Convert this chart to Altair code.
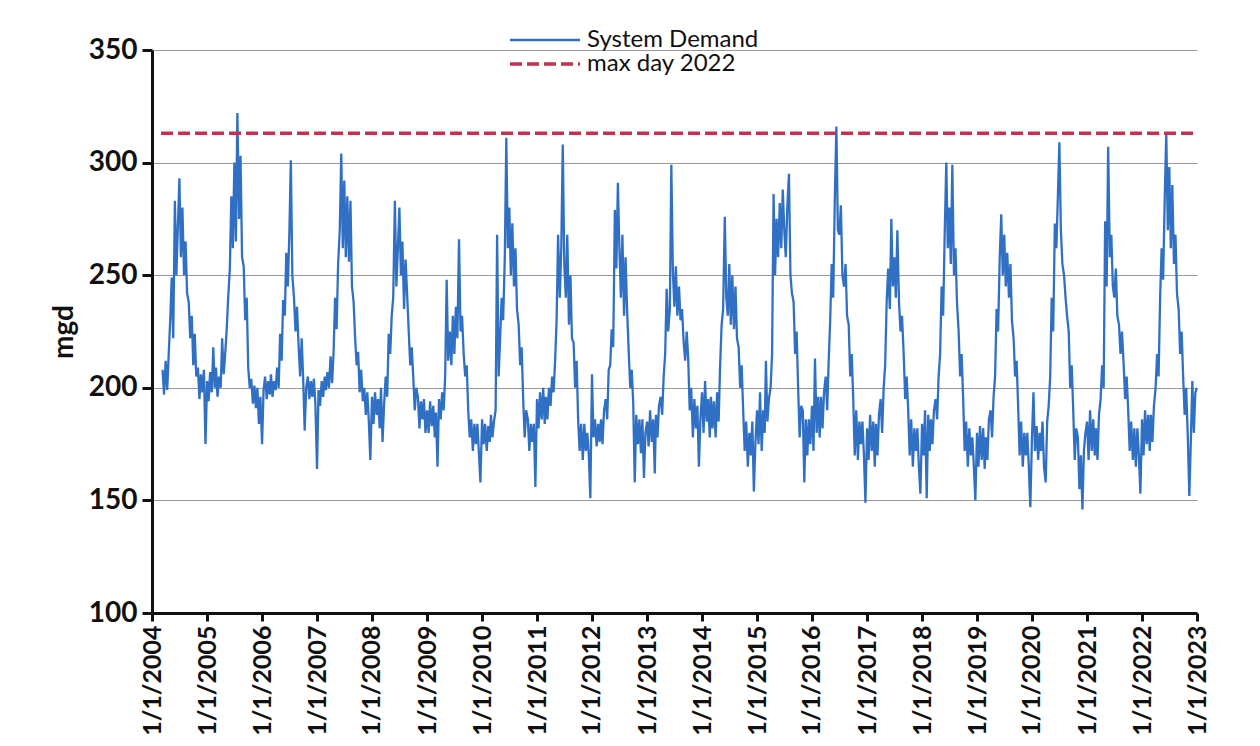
import altair as alt
import pandas as pd

# Daily system demand (mgd) at ~10-day resolution (1st, 11th, 21st of each month)
y2004 = [208, 197,  212, 199, 215,  230, 249, 222,  283, 250, 272,  293, 258, 280,  250, 265, 242,
         238, 222, 232,  210, 224, 205,  209, 195, 206,  198, 208, 175]  # from Mar 11
y2005 = [203, 194, 207,  198, 218, 200,  209, 196, 205,  200, 222, 206,  215, 226, 240,  253, 285, 262,
         300, 265, 322,  275, 303, 258,  254, 230, 240,  209, 200, 204,  193, 201, 191,  200, 184, 196]
y2006 = [175, 199, 205,  195, 203, 197,  206, 196, 203,  199, 209, 200,  224, 212, 239,  232, 260, 245,
         268, 301, 250,  240, 225, 236,  218, 205, 222,  204, 181, 200,  205, 195, 203,  196, 204, 193]
y2007 = [164, 199, 192,  203, 196, 205,  199, 207, 200,  214, 202, 216,  240, 226, 255,  270, 304, 262,
         292, 258, 285,  256, 283, 245,  238, 222, 210,  216, 198, 208,  194, 200, 188,  198, 185, 168]
y2008 = [196, 184, 198,  188, 195, 182,  200, 176, 192,  205, 196, 224,  215, 232, 240,  283, 245, 262,
         280, 250, 265,  235, 257, 242,  225, 210, 218,  205, 190, 200,  196, 182, 194,  186, 195, 180]
y2009 = [190, 180, 194,  183, 192, 178,  189, 165, 195,  186, 198, 190,  205, 248, 212,  225, 210, 232,
         215, 236, 222,  266, 225, 232,  215, 205, 210,  190, 178, 186,  172, 184, 175,  184, 171, 158]
y2010 = [186, 175, 184,  172, 183, 176,  188, 178, 185,  190, 268, 205,  222, 240, 230,  258, 311, 262,
         280, 250, 273,  245, 262, 235,  228, 210, 218,  195, 178, 190,  186, 172, 184,  176, 184, 156]
y2011 = [195, 182, 198,  186, 200, 184,  196, 186, 200,  192, 205, 198,  212, 230, 268,  240, 262, 308,
         255, 240, 268,  228, 250, 222,  220, 200, 212,  186, 172, 184,  168, 184, 172,  180, 170, 151]
y2012 = [206, 178, 186,  174, 184, 176,  186, 175, 190,  195, 186, 208,  210, 226, 218,  279, 253, 291,
         262, 240, 268,  232, 258, 235,  216, 200, 208,  193, 158, 188,  175, 186, 171,  186, 160, 180]
y2013 = [185, 174, 190,  176, 186, 162,  188, 178, 192,  196, 188, 205,  215, 244, 225,  235, 299, 252,
         236, 254, 232,  245, 230, 235,  220, 212, 225,  213, 190, 200,  178, 195, 182,  192, 165, 186]
y2014 = [198, 180, 203,  185, 195, 178,  196, 182, 194,  178, 198, 185,  210, 228, 235,  276, 240, 232,
         255, 228, 250,  226, 245, 222,  218, 200, 210,  190, 172, 185,  165, 180, 170,  185, 154, 175]
y2015 = [190, 175, 198,  172, 190, 180,  212, 185, 195,  200, 215, 286,  250, 275, 258,  282, 262, 288,
         270, 258, 280,  295, 250, 242,  238, 215, 225,  200, 178, 192,  190, 158, 186,  170, 186, 175]
y2016 = [192, 172, 213,  180, 196, 178,  196, 182, 198,  205, 190, 212,  230, 255, 240,  285, 316, 270,
         268, 281, 250,  245, 255, 232,  228, 205, 215,  195, 170, 190,  168, 185, 175,  185, 170, 149]
y2017 = [182, 168, 188,  172, 185, 165,  184, 170, 188,  195, 180, 200,  210, 238, 253,  235, 275, 245,
         258, 240, 270,  238, 225, 232,  215, 195, 205,  190, 170, 186,  165, 182, 172,  182, 165, 153]
y2018 = [184, 170, 190,  151, 188, 172,  186, 175, 190,  195, 186, 205,  215, 245, 232,  270, 300, 262,
         280, 255, 299,  250, 262, 238,  225, 205, 215,  195, 172, 185,  165, 182, 170,  178, 165, 150]
y2019 = [180, 165, 183,  168, 182, 164,  178, 168, 186,  190, 178, 196,  205, 235, 225,  258, 277, 250,
         268, 245, 260,  240, 255, 230,  222, 205, 212,  192, 170, 185,  165, 180, 170,  180, 165, 147]
y2020 = [178, 198, 172,  183, 168, 180,  172, 185, 165,  158, 185, 192,  205, 240, 225,  273, 262, 285,
         309, 270, 255,  250, 240, 232,  225, 200, 210,  190, 168, 182,  178, 155, 170,  146, 172, 180]
y2021 = [185, 168, 190,  172, 186, 170,  182, 168, 188,  195, 210, 200,  274, 245, 307,  258, 268, 245,
         240, 253, 232,  228, 215, 225,  210, 195, 205,  190, 172, 185,  168, 182, 165,  182, 170, 153]
y2022 = [186, 170, 190,  175, 188, 172,  188, 176, 192,  200, 215, 205,  240, 262, 248,  285, 313, 270,
         298, 262, 290,  255, 268, 242,  235, 215, 225,  205, 188, 200,  178, 152, 176,  203, 180, 198]
last_day = ("2022-12-31", 200)

max_day_2022 = 313
max_day_span = ["2004-03-01", "2023-01-01"]

series_names = ["System Demand", "max day 2022"]
series_colors = ["#3070C4", "#C4304F"]

years = {
    2004: y2004, 2005: y2005, 2006: y2006, 2007: y2007, 2008: y2008, 2009: y2009,
    2010: y2010, 2011: y2011, 2012: y2012, 2013: y2013, 2014: y2014, 2015: y2015,
    2016: y2016, 2017: y2017, 2018: y2018, 2019: y2019, 2020: y2020, 2021: y2021,
    2022: y2022,
}

rows = []
for yr, vals in years.items():
    dates = [f"{yr}-{m:02d}-{d:02d}" for m in range(1, 13) for d in (1, 11, 21)]
    dates = dates[-len(vals):]
    for dt, v in zip(dates, vals):
        rows.append({"date": dt, "value": v, "series": series_names[0]})
rows.append({"date": last_day[0], "value": last_day[1], "series": series_names[0]})
for dt in max_day_span:
    rows.append({"date": dt, "value": max_day_2022, "series": series_names[1]})

df = pd.DataFrame(rows)

tick_years = [alt.DateTime(year=y, month=1, date=1, utc=True) for y in range(2004, 2024)]

legend = alt.Legend(
    title=None, orient="none", legendX=356, legendY=-21, symbolType="stroke",
    symbolSize=4900, symbolStrokeWidth=3, clipHeight=22, labelFont="Lato",
    labelFontSize=24, labelColor="#111111", labelOffset=5, padding=0, rowPadding=0,
    labelLimit=0,
)

chart = alt.Chart(df).mark_line().encode(
    x=alt.X(
        "date:T",
        scale=alt.Scale(type="utc", domain=[alt.DateTime(year=2004, month=1, date=1, utc=True),
                                            alt.DateTime(year=2023, month=1, date=1, utc=True)]),
        axis=alt.Axis(values=tick_years, format="%-m/%-d/%Y", labelAngle=-90, title=None,
                      grid=False, labelFontSize=25, labelFontWeight="bold", labelPadding=4,
                      tickSize=8, labelFlush=False, labelOverlap=False),
    ),
    y=alt.Y(
        "value:Q",
        scale=alt.Scale(domain=[100, 350], nice=False, zero=False),
        axis=alt.Axis(values=[100, 150, 200, 250, 300, 350], title="mgd", grid=True,
                      labelFontSize=28, labelFontWeight="bold", tickSize=10, labelPadding=5,
                      titleFontSize=28, titleFontWeight="bold", titlePadding=10),
    ),
    color=alt.Color("series:N", scale=alt.Scale(domain=series_names, range=series_colors), legend=legend),
    strokeDash=alt.StrokeDash("series:N", scale=alt.Scale(domain=series_names, range=[[1, 0], [12, 5]]), legend=legend),
    strokeWidth=alt.StrokeWidth("series:N", scale=alt.Scale(domain=series_names, range=[2.3, 3.5]), legend=None),
).properties(
    width=1045, height=563,
    autosize=alt.AutoSizeParams(type="none"),
    padding={"left": 152, "top": 50, "right": 63, "bottom": 133},
    background="white",
).configure_view(
    stroke=None
).configure_axis(
    labelFont="Lato", titleFont="Lato", labelColor="#111111", titleColor="#111111",
    domainColor="#111111", domainWidth=3, tickColor="#111111", tickWidth=3,
    gridColor="#9a9a9a", gridWidth=1.2,
)

chart.save("out.html", embed_options={"renderer": "svg", "actions": False})
